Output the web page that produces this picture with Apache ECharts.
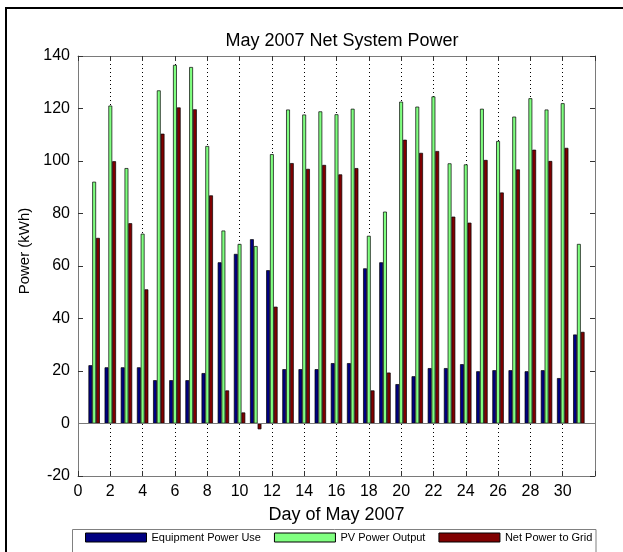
<!DOCTYPE html>
<html>
<head>
<meta charset="utf-8">
<script src="https://cdn.jsdelivr.net/npm/echarts@6/dist/echarts.min.js"></script>
<style>
html,body{margin:0;padding:0;background:#fff;}
#chart{width:623px;height:552px;}
</style>
</head>
<body>
<div id="chart"></div>
<script>
var days = [1,2,3,4,5,6,7,8,9,10,11,12,13,14,15,16,17,18,19,20,21,22,23,24,25,26,27,28,29,30,31];
var equipmentUse = [22.2,21.4,21.4,21.4,16.5,16.5,16.5,19.2,61.4,64.6,70.2,58.4,20.7,20.7,20.7,23.0,23.0,59.1,61.4,15.0,18.0,21.1,21.1,22.6,19.9,20.3,20.3,19.9,20.3,17.3,33.9];
var pvOutput = [92.1,121.1,97.3,72.3,126.9,136.6,135.8,105.7,73.5,68.4,67.6,102.6,119.6,117.7,118.9,117.8,119.9,71.5,80.7,122.6,120.7,124.6,99.1,98.7,119.9,107.6,116.9,123.9,119.6,122.0,68.4];
var netToGrid = [70.7,99.9,76.3,51.1,110.4,120.4,119.7,86.9,12.6,4.2,-2.2,44.5,99.2,97.0,98.5,94.9,97.3,12.6,19.4,108.1,103.1,103.8,78.8,76.5,100.4,88.0,96.8,104.3,100.0,105.0,34.9];
var seriesNames = ['Equipment Power Use','PV Power Output','Net Power to Grid'];
var seriesColors = ['#000080','#80ff80','#800000'];

var FONT = "'Liberation Sans', Arial, sans-serif";
function pairs(vals){ return days.map(function(d,i){ return [d, vals[i]]; }); }
var allVals = [equipmentUse, pvOutput, netToGrid];

var chart = echarts.init(document.getElementById('chart'), null, {renderer:'canvas'});
var axisGray = '#7a7a7a';
var series = allVals.map(function(vals, k){
  var s = {
    name: seriesNames[k],
    type: 'bar',
    data: pairs(vals),
    barWidth: 3.8,
    barGap: '0%',
    itemStyle: {color: seriesColors[k], borderColor: '#000', borderWidth: 0.7},
    emphasis: {disabled: true},
    animation: false
  };
  if (k === 0) {
    s.markLine = {
      silent: true, symbol: ['none','none'], label: {show:false},
      lineStyle: {color: axisGray, type: 'solid', width: 1},
      data: [{yAxis: 0}], animation: false
    };
  }
  return s;
});

chart.setOption({
  backgroundColor: '#fff',
  animation: false,
  title: {
    text: 'May 2007 Net System Power',
    left: 337, top: 27, textAlign: 'center',
    textStyle: {fontFamily: FONT, fontSize: 18, fontWeight: 'normal', color: '#000'}
  },
  grid: {left: 78, right: 28, top: 56, bottom: 76, containLabel: false},
  xAxis: [{
    type: 'value', min: 0, max: 32, interval: 2, position: 'bottom',
    name: 'Day of May 2007', nameLocation: 'middle', nameGap: 30,
    nameTextStyle: {fontFamily: FONT, fontSize: 18, color: '#000'},
    axisLine: {show: true, onZero: false, lineStyle: {color: axisGray, width: 1}},
    axisTick: {show: true, inside: true, length: 5, lineStyle: {color: '#333'}},
    axisLabel: {fontFamily: FONT, fontSize: 16, color: '#000', margin: 8,
      formatter: function(v){ return v > 30 ? '' : String(v); }},
    splitLine: {show: true, showMinLine: false, showMaxLine: false,
      lineStyle: {color: '#000', type: [1, 3], width: 1}}
  }, {
    type: 'value', min: 0, max: 32, interval: 2, position: 'top',
    axisLine: {show: true, onZero: false, lineStyle: {color: axisGray, width: 1}},
    axisTick: {show: true, inside: true, length: 5, lineStyle: {color: '#333'}},
    axisLabel: {show: false}, splitLine: {show: false}
  }],
  yAxis: [{
    type: 'value', min: -20, max: 140, interval: 20, position: 'left',
    axisLine: {show: true, onZero: false, lineStyle: {color: axisGray, width: 1}},
    axisTick: {show: true, inside: true, length: 5, lineStyle: {color: '#333'}},
    axisLabel: {fontFamily: FONT, fontSize: 16, color: '#000', margin: 8},
    splitLine: {show: false}
  }, {
    type: 'value', min: -20, max: 140, interval: 20, position: 'right',
    axisLine: {show: true, onZero: false, lineStyle: {color: axisGray, width: 1}},
    axisTick: {show: true, inside: true, length: 5, lineStyle: {color: '#333'}},
    axisLabel: {show: false}, splitLine: {show: false}
  }],
  legend: {
    data: seriesNames, left: 85, top: 532, padding: 0,
    icon: 'rect', itemWidth: 61, itemHeight: 9, itemGap: 13,
    selectedMode: false,
    itemStyle: {borderColor: '#000', borderWidth: 1},
    textStyle: {fontFamily: FONT, fontSize: 11, color: '#000'}
  },
  graphic: [
    {type: 'rect', z: -10, silent: true,
     shape: {x: 6, y: 8, width: 700, height: 700},
     style: {fill: 'none', stroke: '#000', lineWidth: 2}},
    {type: 'rect', z: -5, silent: true,
     shape: {x: 72.5, y: 529.5, width: 523.5, height: 40},
     style: {fill: '#fff', stroke: '#808080', lineWidth: 1}},
    {type: 'text', silent: true, x: 25, y: 251, rotation: Math.PI/2,
     style: {text: 'Power (kWh)', fontFamily: FONT, fontSize: 15, fill: '#000',
             align: 'center', verticalAlign: 'middle'}}
  ],
  series: series
});
</script>
</body>
</html>
